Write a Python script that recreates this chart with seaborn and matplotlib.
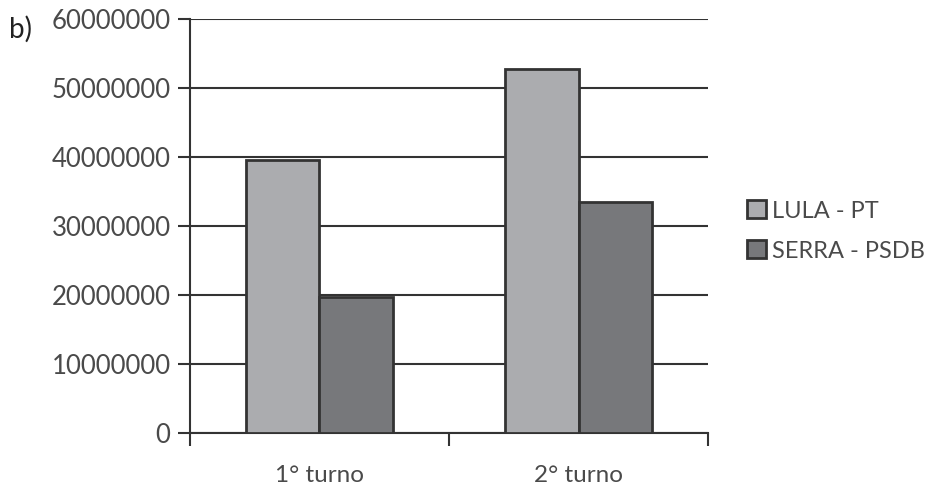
import pandas as pd
import seaborn as sns
import matplotlib.pyplot as plt

turnos = ['1° turno', '2° turno']
lula = [39500000, 52800000]
serra = [19700000, 33450000]
candidatos = ['LULA - PT', 'SERRA - PSDB']
yticks = [0, 10000000, 20000000, 30000000, 40000000, 50000000, 60000000]

df = pd.DataFrame({
    'turno': turnos * 2,
    'votos': lula + serra,
    'candidato': [candidatos[0]] * 2 + [candidatos[1]] * 2,
})

sns.set_style('white')
plt.rcParams['font.family'] = ['Lato', 'DejaVu Sans']
txt = '#4a4a4a'

fig = plt.figure(figsize=(9.41, 4.93), dpi=100)
ax = fig.add_axes([0.2019, 0.1217, 0.5505, 0.8398])

sns.barplot(data=df, x='turno', y='votos', hue='candidato',
            palette=['#abacaf', '#77787b'], width=0.57,
            edgecolor='#333333', linewidth=2, saturation=1, ax=ax, zorder=3)

ax.set_ylim(0, 60000000)
ax.set_xlim(-0.5, 1.5)
ax.set_yticks(yticks)
ax.set_yticklabels([str(v) for v in yticks])
ax.set_xticks([0, 1])
ax.set_xticklabels(turnos)
ax.set_xticks([-0.5, 0.5, 1.5], minor=True)
ax.tick_params(axis='x', which='major', length=0, pad=23, labelsize=17.5, labelcolor=txt)
ax.tick_params(axis='x', which='minor', length=9, width=1.5, color='#333333', direction='out', bottom=True)
ax.tick_params(axis='y', length=9, width=1.5, color='#333333', direction='out', left=True,
               labelsize=18.5, labelcolor=txt, pad=5)
ax.set_xlabel('')
ax.set_ylabel('')

ax.yaxis.grid(True, color='#333333', linewidth=1.5)
ax.set_axisbelow(True)
for s in ['top', 'right']:
    ax.spines[s].set_visible(False)
for s in ['left', 'bottom']:
    ax.spines[s].set_color('#333333')
    ax.spines[s].set_linewidth(1.5)

leg = ax.legend(loc='center left', bbox_to_anchor=(1.058, 0.488), frameon=False,
                fontsize=17, handlelength=0.8, handleheight=0.8, handletextpad=0.25,
                labelspacing=0.8, borderaxespad=0)
for t in leg.get_texts():
    t.set_color(txt)

fig.text(0.010, 0.94, 'b)', fontsize=20, color='#222222', va='center')

fig.savefig('out.png', dpi=100)
